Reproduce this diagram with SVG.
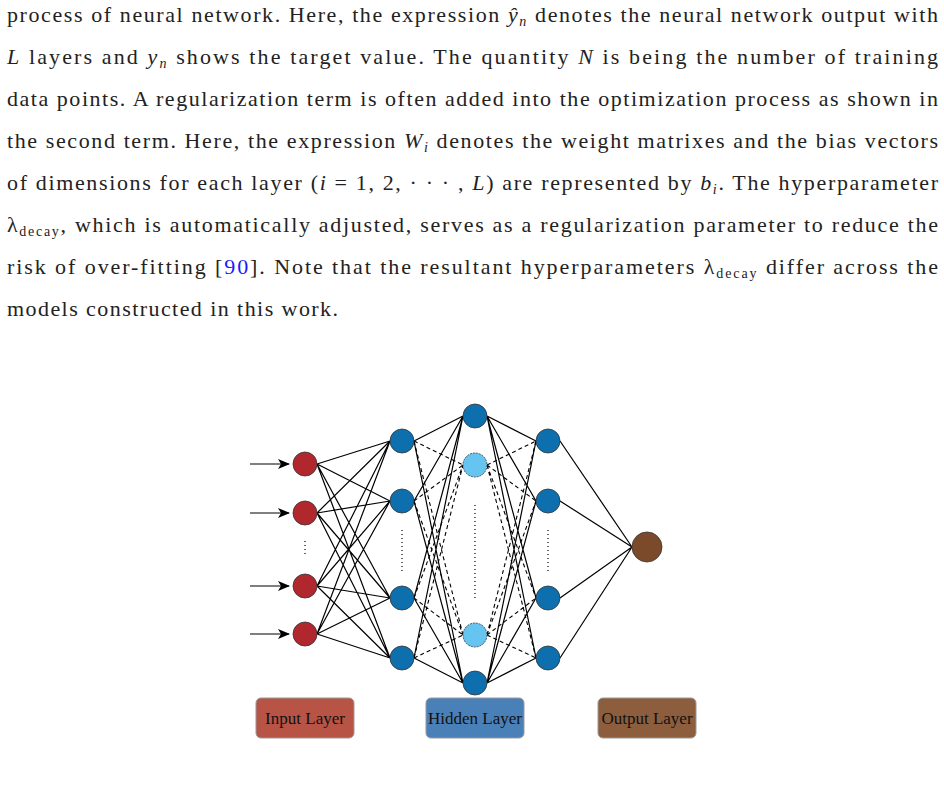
<svg xmlns="http://www.w3.org/2000/svg" width="944" height="800" viewBox="0 0 944 800">
<style>
.t{font-family:"Liberation Serif","DejaVu Serif",serif;font-size:22px;fill:#222}
.i{font-style:italic}
.s{font-size:14px}
.c{stroke:#000;stroke-width:1.2;fill:none}
.d{stroke:#000;stroke-width:1.1;stroke-dasharray:4 3;fill:none}
.dot{stroke:#000;stroke-width:1.2;stroke-dasharray:1 3;fill:none}
.in{fill:#b0282e;stroke:#333;stroke-width:0.8}
.h{fill:#0e6fae;stroke:#333;stroke-width:0.8}
.hl{fill:#66c5f0;stroke:#333;stroke-width:0.8;stroke-dasharray:2 1}
.o{fill:#7b4a2a;stroke:#333;stroke-width:0.8}
.lb{font-family:"Liberation Serif",serif;font-size:17px;fill:#111;text-anchor:middle}
</style>
<defs><marker id="ar" markerWidth="12" markerHeight="10" refX="11" refY="5" orient="auto" markerUnits="userSpaceOnUse"><path d="M0,0 L12,5 L0,10 L3,5 z" fill="#000"/></marker></defs>
<g id="text">
<text class="t" x="7" y="22" textLength="931" lengthAdjust="spacing">process of neural network. Here, the expression <tspan class="i">ŷ</tspan><tspan class="i s" dy="4">n</tspan><tspan dy="-4"> denotes the neural network output with</tspan></text>
<text class="t" x="7" y="64" textLength="931" lengthAdjust="spacing"><tspan class="i">L</tspan> layers and <tspan class="i">y</tspan><tspan class="i s" dy="4">n</tspan><tspan dy="-4"> shows the target value.  The quantity </tspan><tspan class="i">N</tspan> is being the number of training</text>
<text class="t" x="7" y="106" textLength="931" lengthAdjust="spacing">data points. A regularization term is often added into the optimization process as shown in</text>
<text class="t" x="7" y="148" textLength="931" lengthAdjust="spacing">the second term. Here, the expression <tspan class="i">W</tspan><tspan class="i s" dy="4">i</tspan><tspan dy="-4"> denotes the weight matrixes and the bias vectors</tspan></text>
<text class="t" x="7" y="190" textLength="931" lengthAdjust="spacing">of dimensions for each layer (<tspan class="i">i</tspan> = 1, 2, · · · , <tspan class="i">L</tspan>) are represented by <tspan class="i">b</tspan><tspan class="i s" dy="4">i</tspan><tspan dy="-4">.  The hyperparameter</tspan></text>
<text class="t" x="7" y="232" textLength="931" lengthAdjust="spacing">λ<tspan class="s" dy="4">decay</tspan><tspan dy="-4">, which is automatically adjusted, serves as a regularization parameter to reduce the</tspan></text>
<text class="t" x="7" y="274" textLength="931" lengthAdjust="spacing">risk of over-fitting [<tspan fill="#1a1aff">90</tspan>].  Note that the resultant hyperparameters λ<tspan class="s" dy="4">decay</tspan><tspan dy="-4"> differ across the</tspan></text>
<text class="t" x="7" y="316" textLength="331" lengthAdjust="spacing">models constructed in this work.</text>
</g>
<g id="connectors">
<line class="c" x1="250" y1="464" x2="289" y2="464" stroke-width="1.6" marker-end="url(#ar)"/>
<line class="c" x1="250" y1="513" x2="289" y2="513" stroke-width="1.6" marker-end="url(#ar)"/>
<line class="c" x1="250" y1="586" x2="289" y2="586" stroke-width="1.6" marker-end="url(#ar)"/>
<line class="c" x1="250" y1="634" x2="289" y2="634" stroke-width="1.6" marker-end="url(#ar)"/>
<path class="c" d="M317,464L390,441M317,464L390,501M317,464L390,598M317,464L390,658M317,513L390,441M317,513L390,501M317,513L390,598M317,513L390,658M317,586L390,441M317,586L390,501M317,586L390,598M317,586L390,658M317,634L390,441M317,634L390,501M317,634L390,598M317,634L390,658"/>
<path class="c" d="M414,441L463,416M414,441L463,683M414,501L463,416M414,501L463,683M414,598L463,416M414,598L463,683M414,658L463,416M414,658L463,683"/>
<path class="d" d="M414,441L463,465M414,441L463,635M414,501L463,465M414,501L463,635M414,598L463,465M414,598L463,635M414,658L463,465M414,658L463,635"/>
<path class="c" d="M487,416L536,441M487,416L536,501M487,416L536,598M487,416L536,658M487,683L536,441M487,683L536,501M487,683L536,598M487,683L536,658"/>
<path class="d" d="M487,465L536,441M487,465L536,501M487,465L536,598M487,465L536,658M487,635L536,441M487,635L536,501M487,635L536,598M487,635L536,658"/>
<path class="c" d="M560,441L632,547M560,501L632,547M560,598L632,547M560,658L632,547"/>
<path class="dot" d="M305,541V557M402,530V574M475,505V600M548,530V574"/>
</g>
<g id="input-nodes"><circle class="in" cx="305" cy="464" r="12"/><circle class="in" cx="305" cy="513" r="12"/><circle class="in" cx="305" cy="586" r="12"/><circle class="in" cx="305" cy="634" r="12"/></g>
<g id="hidden1"><circle class="h" cx="402" cy="441" r="12"/><circle class="h" cx="402" cy="501" r="12"/><circle class="h" cx="402" cy="598" r="12"/><circle class="h" cx="402" cy="658" r="12"/></g>
<g id="hidden2"><circle class="h" cx="475" cy="416" r="12"/><circle class="hl" cx="475" cy="465" r="12"/><circle class="hl" cx="475" cy="635" r="12"/><circle class="h" cx="475" cy="683" r="12"/></g>
<g id="hidden3"><circle class="h" cx="548" cy="441" r="12"/><circle class="h" cx="548" cy="501" r="12"/><circle class="h" cx="548" cy="598" r="12"/><circle class="h" cx="548" cy="658" r="12"/></g>
<g id="output-node"><circle class="o" cx="647" cy="547" r="15"/></g>
<g id="label-input"><rect x="256" y="698" width="98" height="40" rx="5" fill="#b85446" stroke="#999"/><text class="lb" x="305" y="724">Input Layer</text></g>
<g id="label-hidden"><rect x="426" y="698" width="98" height="40" rx="5" fill="#4a80b8" stroke="#999"/><text class="lb" x="475" y="724">Hidden Layer</text></g>
<g id="label-output"><rect x="598" y="698" width="98" height="40" rx="5" fill="#8c5e3e" stroke="#999"/><text class="lb" x="647" y="724">Output Layer</text></g>
</svg>
